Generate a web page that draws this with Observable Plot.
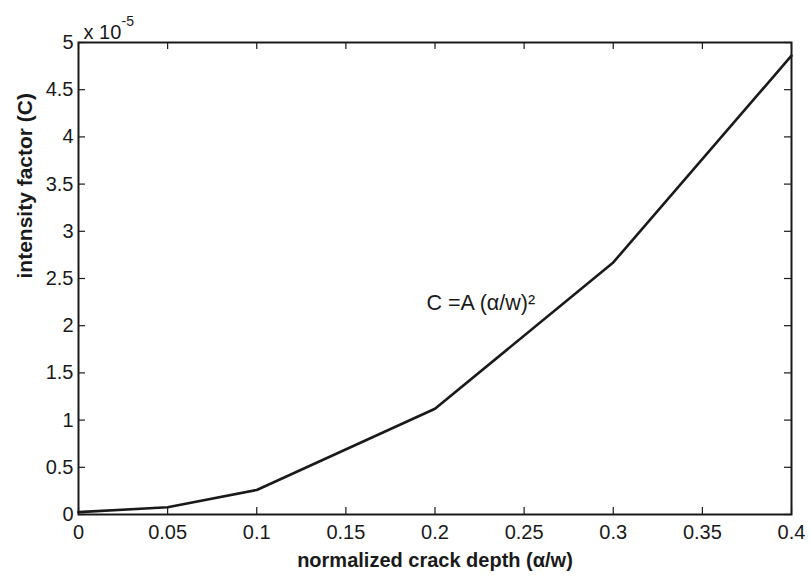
<!DOCTYPE html>
<html>
<head>
<meta charset="utf-8">
<script src="https://cdn.jsdelivr.net/npm/d3@7"></script>
<script src="https://cdn.jsdelivr.net/npm/@observablehq/plot@0.6"></script>
<style>
  html, body { margin: 0; padding: 0; background: #fff; }
  #chart { width: 810px; height: 579px; }
</style>
</head>
<body>
<div id="chart"></div>
<script>
// normalized crack depth (α/w)
const depth = [0, 0.05, 0.1, 0.2, 0.3, 0.4];
// intensity factor C, in units of 1e-5
const intensity = [0.025, 0.077, 0.26, 1.12, 2.67, 4.86];
const xTicks = [0, 0.05, 0.1, 0.15, 0.2, 0.25, 0.3, 0.35, 0.4];
const yTicks = [0, 0.5, 1, 1.5, 2, 2.5, 3, 3.5, 4, 4.5, 5];
const annotation = [{x: 0.1952, y: 2.235, text: "C =A (α/w)²"}];

const data = depth.map((d, i) => ({x: d, y: intensity[i]}));

const W = 810, H = 579;
const mT = 42, mB = 65, mL = 78, mR = 19;
const innerW = W - mL - mR, innerH = H - mT - mB;
const tick = 7;
const ink = "#1a1a1a";
const font = "'Liberation Sans', Arial, Helvetica, sans-serif";

const chart = Plot.plot({
  width: W,
  height: H,
  marginTop: mT,
  marginBottom: mB,
  marginLeft: mL,
  marginRight: mR,
  style: {background: "#fff", fontFamily: font, fontSize: "20px", color: ink},
  x: {domain: [0, 0.4]},
  y: {domain: [0, 5]},
  marks: [
    Plot.axisX(xTicks, {tickSize: 0, tickPadding: 10, tickFormat: d => String(d), label: null, fontSize: 20, fill: ink}),
    Plot.axisY(yTicks, {tickSize: 0, tickPadding: 5, tickFormat: d => String(d), label: null, fontSize: 20, fill: ink}),
    // inward ticks on all four sides
    Plot.tickX(xTicks, {x: d => d, insetTop: innerH - tick, stroke: ink, strokeWidth: 1.2}),
    Plot.tickX(xTicks, {x: d => d, insetBottom: innerH - tick, stroke: ink, strokeWidth: 1.2}),
    Plot.tickY(yTicks, {y: d => d, insetRight: innerW - tick, stroke: ink, strokeWidth: 1.2}),
    Plot.tickY(yTicks, {y: d => d, insetLeft: innerW - tick, stroke: ink, strokeWidth: 1.2}),
    Plot.frame({stroke: ink, strokeWidth: 2}),
    Plot.line(data, {x: "x", y: "y", stroke: ink, strokeWidth: 2.6, strokeLinejoin: "round"}),
    Plot.text(annotation, {x: "x", y: "y", text: "text", textAnchor: "start", fontSize: 21.5, fill: ink}),
    // exponent label
    Plot.text(["x 10"], {frameAnchor: "top-left", dx: 5, dy: -17.5, textAnchor: "start", fontSize: 20, fill: ink}),
    Plot.text(["-5"], {frameAnchor: "top-left", dx: 43, dy: -26, textAnchor: "start", fontSize: 14, fill: ink}),
    // axis titles
    Plot.text(["normalized crack depth (α/w)"], {frameAnchor: "bottom", dy: 38, lineAnchor: "top", fontSize: 20, fontWeight: "bold", fill: ink}),
    Plot.text(["intensity factor (C)"], {frameAnchor: "left", dx: -53, rotate: -90, fontSize: 21, fontWeight: "bold", fill: ink})
  ]
});

document.getElementById("chart").appendChild(chart);
</script>
</body>
</html>
